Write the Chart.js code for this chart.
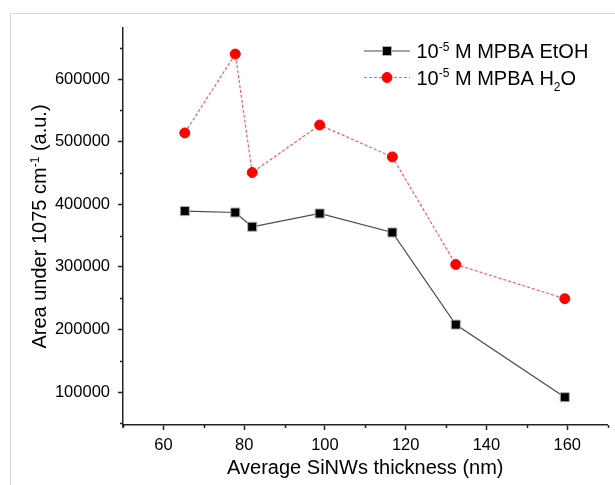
<!DOCTYPE html>
<html>
<head>
<meta charset="utf-8">
<script src="https://cdn.jsdelivr.net/npm/chart.js@4/dist/chart.umd.min.js"></script>
<style>
  html, body { margin: 0; padding: 0; background: #fff; overflow: hidden; }
  #wrap { position: relative; width: 615px; height: 485px; }
  #frame { position: absolute; left: 10px; top: 13px; width: 640px; height: 500px; border: 1px solid #d9d9d9; box-sizing: border-box; }
  canvas { position: absolute; left: 0; top: 0; }
</style>
</head>
<body>
<div id="wrap">
  <div id="frame"></div>
  <canvas id="c" width="615" height="485"></canvas>
</div>
<script>
// ---- data ----
const thickness = [65.3, 77.8, 82.0, 98.7, 116.7, 132.4, 159.4];
const areaEtOH  = [389000, 386800, 364000, 385200, 354900, 207700, 91700];
const areaH2O   = [513900, 639900, 450600, 526600, 475600, 303800, 249100];
const xTickValues = [60, 80, 100, 120, 140, 160];
const xMinorValues = [50, 70, 90, 110, 130, 150, 170];
const yTickValues = [100000, 200000, 300000, 400000, 500000, 600000];
const yMinorValues = [50000, 150000, 250000, 350000, 450000, 550000, 650000];
const seriesNames = ['10\u207B\u2075 M MPBA EtOH', '10\u207B\u2075 M MPBA H\u2082O'];
const xTitle = 'Average SiNWs thickness (nm)';
const yTitleParts = [['Area under 1075 cm', 0], ['-1', 1], [' (a.u.)', 0]];
const legendParts = [
  [['10', 0], ['-5', 1], [' M MPBA EtOH', 0]],
  [['10', 0], ['-5', 1], [' M MPBA H', 0], ['2', -1], ['O', 0]]
];

const FONT = '"Liberation Sans", Arial, sans-serif';

function drawRich(ctx, parts, x, y, size, align) {
  // parts: [text, mode] mode 1 = superscript, -1 = subscript
  const small = Math.round(size * 0.62);
  let total = 0;
  const widths = parts.map(([t, m]) => {
    ctx.font = (m ? small : size) + 'px ' + FONT;
    const w = ctx.measureText(t).width;
    total += w;
    return w;
  });
  let cx = align === 'center' ? x - total / 2 : x;
  ctx.textAlign = 'left';
  ctx.textBaseline = 'alphabetic';
  parts.forEach(([t, m], i) => {
    ctx.font = (m ? small : size) + 'px ' + FONT;
    const dy = m === 1 ? -size * 0.36 : (m === -1 ? size * 0.3 : 0);
    ctx.fillText(t, cx, y + dy);
    cx += widths[i];
  });
}

const decorPlugin = {
  id: 'decor',
  afterDraw(chart) {
    const ctx = chart.ctx;
    const xs = chart.scales.x, ys = chart.scales.y;
    const area = chart.chartArea;
    ctx.save();
    // minor ticks and small extension of the y axis below the x axis
    ctx.strokeStyle = '#222';
    ctx.lineWidth = 1.5;
    ctx.beginPath();
    xMinorValues.forEach(v => {
      const px = Math.round(xs.getPixelForValue(v)) + 0.5;
      ctx.moveTo(px, area.bottom);
      ctx.lineTo(px, area.bottom + 3);
    });
    yMinorValues.forEach(v => {
      if (v < ys.min || v > ys.max) return;
      const py = Math.round(ys.getPixelForValue(v)) + 0.5;
      ctx.moveTo(area.left, py);
      ctx.lineTo(area.left - 3, py);
    });
    ctx.moveTo(area.left, area.bottom);
    ctx.lineTo(area.left, area.bottom + 3);
    ctx.stroke();

    ctx.fillStyle = '#000';
    // x title
    ctx.font = '20px ' + FONT;
    ctx.textAlign = 'center';
    ctx.textBaseline = 'alphabetic';
    ctx.fillText(xTitle, (area.left + area.right) / 2, 474);
    // y title
    ctx.save();
    ctx.translate(46, (area.top + area.bottom) / 2);
    ctx.rotate(-Math.PI / 2);
    drawRich(ctx, yTitleParts, 0, 0, 20, 'center');
    ctx.restore();

    // legend
    const rows = [51, 77.5];
    chart.data.datasets.forEach((ds, i) => {
      const y = rows[i];
      ctx.save();
      ctx.strokeStyle = ds.borderColor;
      ctx.lineWidth = ds.borderWidth;
      ctx.setLineDash(ds.borderDash || []);
      ctx.beginPath();
      ctx.moveTo(364, y);
      ctx.lineTo(410, y);
      ctx.stroke();
      ctx.restore();
      ctx.save();
      ctx.fillStyle = ds.pointBackgroundColor;
      ctx.strokeStyle = ds.pointBorderColor;
      ctx.lineWidth = ds.pointBorderWidth;
      ctx.beginPath();
      if (ds.pointStyle === 'rect') {
        const s = Math.SQRT1_2 * ds.pointRadius;
        ctx.rect(387 - s, y - s, 2 * s, 2 * s);
      } else {
        ctx.arc(387, y, ds.pointRadius, 0, Math.PI * 2);
      }
      ctx.fill();
      ctx.stroke();
      ctx.restore();
      ctx.fillStyle = '#000';
      drawRich(ctx, legendParts[i], 416.5, y + 7, 20, 'left');
    });
    ctx.restore();
  }
};

const etohPoints = thickness.map((x, i) => ({ x: x, y: areaEtOH[i] }));
const h2oPoints = thickness.map((x, i) => ({ x: x, y: areaH2O[i] }));

new Chart(document.getElementById('c'), {
  type: 'line',
  data: {
    datasets: [
      {
        label: seriesNames[0],
        data: etohPoints,
        borderColor: '#4a4a4a',
        borderWidth: 1.2,
        pointStyle: 'rect',
        pointRadius: 6.4,
        pointBackgroundColor: '#000',
        pointBorderColor: '#b0b0b0',
        pointBorderWidth: 1,
        tension: 0
      },
      {
        label: seriesNames[1],
        data: h2oPoints,
        borderColor: 'rgba(255,60,60,0.85)',
        borderWidth: 1.2,
        borderDash: [3, 2],
        pointStyle: 'circle',
        pointRadius: 5,
        pointBackgroundColor: '#ff0000',
        pointBorderColor: '#ff0000',
        pointBorderWidth: 1,
        tension: 0
      }
    ]
  },
  options: {
    responsive: false,
    animation: false,
    devicePixelRatio: 1,
    events: [],
    layout: { padding: { left: 0, top: 28, right: 5, bottom: 0 } },
    plugins: { legend: { display: false }, tooltip: { enabled: false }, title: { display: false } },
    scales: {
      x: {
        type: 'linear',
        min: 50,
        max: 170,
        afterFit(scale) { scale.height = 60; },
        afterBuildTicks(scale) { scale.ticks = xTickValues.map(v => ({ value: v })); },
        border: { display: true, color: '#222', width: 1.5 },
        grid: { drawOnChartArea: false, drawTicks: true, tickLength: 5, tickColor: '#222', tickWidth: 1.5 },
        ticks: { color: '#000', font: { family: FONT, size: 16.5 }, padding: 6, maxRotation: 0, autoSkip: false }
      },
      y: {
        type: 'linear',
        min: 47300,
        max: 681500,
        afterFit(scale) { scale.width = 123; },
        afterBuildTicks(scale) { scale.ticks = yTickValues.map(v => ({ value: v })); },
        border: { display: true, color: '#222', width: 1.5 },
        grid: { drawOnChartArea: false, drawTicks: true, tickLength: 5, tickColor: '#222', tickWidth: 1.5 },
        ticks: { color: '#000', font: { family: FONT, size: 16.5 }, padding: 8, autoSkip: false,
                 callback: v => String(v) }
      }
    }
  },
  plugins: [decorPlugin]
});
</script>
</body>
</html>
